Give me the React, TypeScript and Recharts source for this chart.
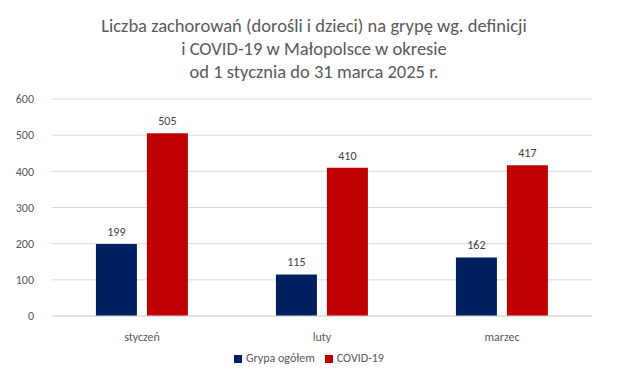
import React from "react";
import { BarChart, Bar, XAxis, YAxis, CartesianGrid, Legend, LabelList } from "recharts";

const categories = ["styczeń", "luty", "marzec"];
const grypa = [199, 115, 162];
const covid = [505, 410, 417];
const yTicks = [0, 100, 200, 300, 400, 500, 600];
const seriesNames = ["Grypa ogółem", "COVID-19"];
const titleLines = [
  "Liczba zachorowań (dorośli i dzieci) na grypę wg. definicji",
  "i COVID-19 w Małopolsce w okresie",
  "od 1 stycznia do 31 marca 2025 r.",
];

const data = categories.map((c, i) => ({ name: c, grypa: grypa[i], covid: covid[i] }));

const FONT = "Carlito, Lato, 'Open Sans', sans-serif";

export default function App() {
  return (
    <div style={{ position: "absolute", left: 0, top: 0, width: 628, height: 384, background: "#fff", fontFamily: FONT }}>
      <div
        style={{
          position: "absolute",
          left: 0,
          top: 14,
          width: 628,
          textAlign: "center",
          fontSize: 18.5,
          lineHeight: "23px",
          color: "#595959",
        }}
      >
        {titleLines.map((l, i) => (
          <div key={i}>{l}</div>
        ))}
      </div>
      <BarChart
        width={628}
        height={384}
        data={data}
        margin={{ top: 99, right: 36, left: 0, bottom: 19 }}
        barCategoryGap="24.4%"
        barGap={10}
      >
        <CartesianGrid vertical={false} stroke="#d9d9d9" />
        <XAxis
          dataKey="name"
          axisLine={{ stroke: "#d9d9d9" }}
          tickLine={false}
          height={35}
          tick={{ fill: "#595959", fontSize: 12, fontFamily: FONT }}
          tickMargin={10}
        />
        <YAxis
          width={52}
          domain={[0, 600]}
          ticks={yTicks}
          axisLine={false}
          tickLine={false}
          tick={{ fill: "#595959", fontSize: 12, fontFamily: FONT }}
          tickMargin={12}
        />
        <Legend
          verticalAlign="bottom"
          iconType="square"
          iconSize={8}
          itemSorter={(item: any) => seriesNames.indexOf(item.value)}
          wrapperStyle={{ fontSize: 12, fontFamily: FONT, color: "#595959", left: 20, width: 588 }}
          formatter={(v) => <span style={{ color: "#595959" }}>{v}</span>}
        />
        <Bar dataKey="grypa" name={seriesNames[0]} fill="#002060" isAnimationActive={false}>
          <LabelList dataKey="grypa" position="top" offset={8} fill="#404040" fontSize={12} fontFamily={FONT} />
        </Bar>
        <Bar dataKey="covid" name={seriesNames[1]} fill="#C00000" isAnimationActive={false}>
          <LabelList dataKey="covid" position="top" offset={8} fill="#404040" fontSize={12} fontFamily={FONT} />
        </Bar>
      </BarChart>
    </div>
  );
}
